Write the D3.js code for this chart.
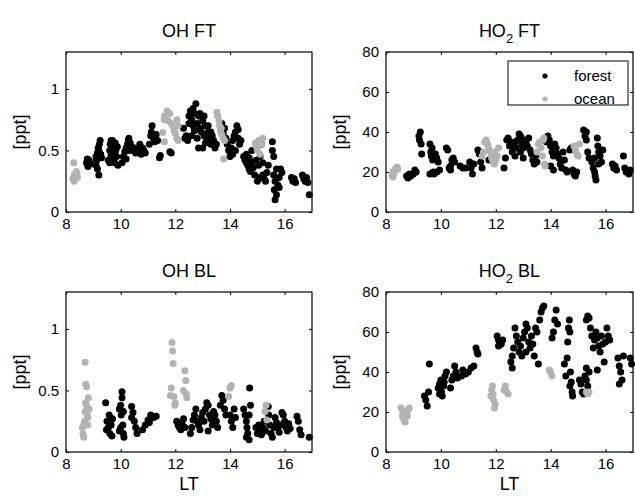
<!DOCTYPE html>
<html>
<head>
<meta charset="utf-8">
<script src="https://cdn.jsdelivr.net/npm/d3@7"></script>
<style>
    body { margin: 0; background: #fff; }
    svg text { font-family: Arial, "Liberation Sans", Helvetica, sans-serif; fill: #000; }
</style>
</head>
<body>
<div id="chart"></div>
<script>

// x axis (local time) shared by all panels
let ltTicks = [8, 10, 12, 14, 16];
let ohTicks = [0, 0.5, 1];
let ho2Ticks = [0, 20, 40, 60, 80];

// OH free troposphere [LT, ppt]
let ohFtForest = [
    [8.75,0.40],[8.8,0.37],[8.85,0.42],[8.9,0.39],[8.78,0.43],
    [9.1,0.38],[9.12,0.42],[9.15,0.48],[9.18,0.52],[9.2,0.50],[9.22,0.55],[9.25,0.58],[9.15,0.35],[9.2,0.30],[9.1,0.45],[9.27,0.47],[9.3,0.44],
    [9.55,0.42],[9.6,0.50],[9.62,0.55],[9.65,0.58],[9.7,0.52],[9.72,0.47],[9.75,0.43],[9.78,0.40],[9.8,0.56],[9.82,0.50],[9.85,0.45],[9.88,0.53],[9.9,0.38],[9.7,0.58],[9.65,0.46],[9.6,0.40],
    [10.05,0.40],[10.1,0.45],[10.15,0.49],[10.2,0.52],[10.25,0.55],[10.28,0.58],[10.3,0.60],[10.35,0.56],[10.4,0.53],[10.45,0.50],[10.5,0.52],[10.55,0.48],[10.2,0.43],[10.3,0.50],
    [10.65,0.50],[10.7,0.55],[10.75,0.47],[10.8,0.52],[10.85,0.50],[10.9,0.48],
    [11.05,0.55],[11.1,0.62],[11.12,0.65],[11.15,0.70],[11.2,0.60],[11.25,0.57],[11.3,0.63],[11.35,0.58],
    [11.45,0.46],[11.42,0.44],[11.85,0.48],[11.8,0.49],
    [12.3,0.68],[12.35,0.60],[12.4,0.62],[12.45,0.58],
    [12.5,0.78],[12.55,0.82],[12.6,0.75],[12.65,0.70],[12.7,0.80],[12.75,0.88],[12.8,0.72],[12.85,0.78],[12.9,0.68],[12.95,0.65],[13.0,0.74],[13.05,0.62],[13.1,0.70],[13.15,0.58],[13.2,0.65],[13.25,0.60],[13.3,0.55],[13.35,0.62],[13.4,0.58],[13.45,0.52],[13.5,0.55],
    [12.6,0.62],[12.7,0.66],[12.8,0.60],[13.0,0.52],[13.1,0.56],[12.5,0.72],[12.9,0.80],[13.2,0.70],[13.3,0.65],[12.65,0.84],[13.05,0.78],[12.85,0.52],
    [13.7,0.72],[13.8,0.68],[13.85,0.60],[13.9,0.55],[13.95,0.50],[14.0,0.45],[14.05,0.52],[14.1,0.58],[14.15,0.62],[14.2,0.65],[14.25,0.70],[14.3,0.60],[14.35,0.55],[14.4,0.58],[14.1,0.47],[14.2,0.50],[14.3,0.67],[13.75,0.64],
    [14.5,0.45],[14.55,0.42],[14.6,0.40],[14.65,0.38],[14.7,0.35],[14.75,0.33],[14.8,0.40],[14.85,0.36],[14.9,0.30],[14.95,0.42],[14.6,0.47],[14.7,0.44],[14.8,0.50],
    [15.0,0.25],[15.05,0.38],[15.1,0.45],[15.15,0.55],[15.2,0.30],[15.25,0.27],[15.3,0.25],[15.35,0.32],[15.1,0.28],[15.2,0.40],[15.4,0.38],
    [15.55,0.57],[15.55,0.50],[15.6,0.45],[15.6,0.30],[15.62,0.18],[15.65,0.10],[15.7,0.14],[15.75,0.22],[15.8,0.28],[15.85,0.35],[15.9,0.32],[15.7,0.35],[15.65,0.25],[15.8,0.20],
    [16.25,0.28],[16.3,0.25],[16.35,0.27],[16.4,0.24],
    [16.65,0.30],[16.7,0.27],[16.75,0.25],[16.8,0.28],[16.85,0.24],[16.9,0.14]
];
let ohFtOcean = [
    [8.28,0.40],[8.25,0.27],[8.3,0.25],[8.35,0.29],[8.4,0.31],[8.38,0.33],[8.3,0.30],[8.42,0.28],
    [11.6,0.78],[11.65,0.76],[11.7,0.82],[11.75,0.74],[11.8,0.80],[11.85,0.72],[11.9,0.70],[11.95,0.66],[12.0,0.64],[12.05,0.60],[12.1,0.58],[11.6,0.75],[11.54,0.645],[11.6,0.57],[12.06,0.75],[12.1,0.70],
    [13.52,0.81],[13.55,0.78],[13.6,0.74],[13.62,0.70],[13.65,0.66],[13.7,0.63],[13.75,0.60],[13.8,0.58],[13.68,0.68],[13.77,0.43],
    [14.93,0.56],[14.97,0.53],[15.0,0.50],[15.05,0.58],[15.1,0.47],[15.15,0.55],[15.2,0.60]
];

// HO2 free troposphere [LT, ppt]
let ho2FtForest = [
    [8.75,18],[8.8,17],[8.85,19],[8.9,18],
    [9.0,19],[9.05,21],[9.1,20],
    [9.2,38],[9.22,36],[9.25,40],[9.28,34],[9.3,29],
    [9.6,34],[9.63,30],[9.65,28],[9.7,26],[9.72,20],[9.75,19],[9.68,32],[9.6,19],
    [9.8,29],[9.85,27],[9.9,25],[9.95,21],[9.85,20],
    [10.2,32],[10.25,31],[10.3,22],[10.35,21],[10.4,26],[10.45,27],[10.5,25],[10.35,23],
    [10.7,23],[10.8,22],[10.9,22],
    [11.05,25],[11.1,22],[11.15,19],[11.2,24],
    [11.35,31],[11.4,29],[11.45,25],[11.5,22],[11.75,26],
    [12.3,22],[12.35,27],[12.4,36],[12.45,37],[12.5,33],[12.55,35],
    [12.6,30],[12.65,33],[12.7,28],[12.75,32],[12.8,36],[12.85,39],[12.9,38],[12.95,34],[13.0,32],[13.05,36],[13.1,35],[13.15,33],[13.2,37],[13.25,31],[13.3,29],[12.7,35],[12.9,30],[13.0,27],
    [13.35,26],[13.4,24],[13.45,28],[13.5,25],
    [13.9,38],[13.95,36],[14.0,33],[14.05,30],[14.1,28],[14.15,34],[14.2,32],[14.25,29],[14.3,27],[14.35,24],[14.4,22],[14.0,23],[14.1,21],[13.85,35],
    [14.45,30],[14.5,26],[14.55,21],[14.6,20],
    [14.7,31],[14.75,32],[14.8,21],[14.85,19],[14.9,18],[14.95,20],
    [15.2,41],[15.25,38],[15.3,36],[15.35,30],[15.4,27],[15.3,40],
    [15.5,25],[15.55,22],[15.6,20],[15.62,18],[15.65,16],[15.7,37],[15.72,33],[15.75,30],[15.8,28],[15.85,25],[15.9,31],[15.6,27],[15.75,24],
    [16.25,24],[16.3,22],[16.35,23],[16.4,21],
    [16.65,28],[16.7,22],[16.75,20],[16.85,19],[16.9,21]
];
let ho2FtOcean = [
    [8.22,18],[8.25,17.5],[8.28,19],[8.3,20],[8.33,21],[8.36,22],[8.4,22.5],[8.43,21.5],[8.25,20],
    [11.5,28],[11.55,30],[11.6,35],[11.65,36],[11.7,34],[11.75,32],[11.8,30],[11.85,27],[11.9,25],[11.95,24],[12.0,26],[12.05,28],[12.1,32],[11.95,30],[11.85,29],
    [13.5,30],[13.55,34],[13.6,35],[13.65,32],[13.7,28],[13.75,37],[13.78,24],[13.8,23],[13.72,36],
    [14.85,33],[14.9,31],[14.95,29],[15.0,28],[15.05,34]
];

// OH boundary layer [LT, ppt]
let ohBlForest = [
    [9.45,0.40],[9.5,0.25],[9.55,0.20],[9.6,0.15],[9.65,0.22],[9.7,0.27],[9.48,0.18],[9.58,0.30],[9.68,0.13],
    [9.95,0.35],[10.0,0.38],[10.02,0.30],[10.05,0.49],[10.08,0.22],[10.1,0.15],[10.12,0.12],[10.0,0.20],[9.95,0.17],[10.05,0.44],[10.1,0.33],
    [10.4,0.37],[10.45,0.32],[10.5,0.25],[10.55,0.20],[10.6,0.15],[10.4,0.28],
    [10.8,0.18],[10.9,0.22],[11.0,0.26],[11.1,0.30],[11.2,0.28],[11.3,0.29],[11.05,0.24],
    [12.05,0.25],[12.1,0.22],[12.15,0.20],[12.2,0.18],[12.25,0.23],[12.3,0.27],[12.35,0.20],
    [12.55,0.15],[12.6,0.20],[12.65,0.26],[12.7,0.30],[12.75,0.35],[12.8,0.25],[12.85,0.22],[12.9,0.18],[12.95,0.28],[13.0,0.32],
    [13.05,0.25],[13.1,0.35],[13.15,0.40],[13.2,0.38],[13.25,0.30],[13.3,0.27],[13.35,0.22],[13.4,0.33],[13.45,0.30],[13.5,0.25],[13.55,0.20],[13.2,0.17],
    [13.65,0.38],[13.7,0.46],[13.75,0.42],[13.8,0.35],[13.85,0.30],
    [14.0,0.30],[14.05,0.25],[14.1,0.20],[14.15,0.35],[14.2,0.28],
    [14.5,0.35],[14.55,0.30],[14.6,0.25],[14.62,0.20],[14.65,0.15],[14.7,0.10],[14.72,0.52],[14.75,0.38],[14.7,0.30],[14.6,0.12],
    [14.95,0.20],[15.0,0.15],[15.05,0.22],[15.1,0.18],[15.15,0.14],[15.2,0.20],[15.25,0.25],[15.3,0.17],
    [15.4,0.37],[15.42,0.30],[15.45,0.22],[15.5,0.15],[15.55,0.12],[15.6,0.20],
    [15.65,0.28],[15.7,0.24],[15.75,0.20],[15.8,0.16],[15.85,0.22],[15.9,0.32],[15.95,0.30],[16.0,0.25],[16.05,0.20],[16.1,0.17],[16.15,0.23],[16.2,0.19],
    [16.45,0.29],[16.5,0.25],[16.55,0.18],[16.6,0.14],
    [16.9,0.12]
];
let ohBlOcean = [
    [8.6,0.20],[8.62,0.15],[8.65,0.12],[8.68,0.25],[8.7,0.33],[8.72,0.40],[8.7,0.73],[8.72,0.55],[8.75,0.53],[8.78,0.30],[8.8,0.28],[8.82,0.44],[8.85,0.35],[8.65,0.22],[8.75,0.38],[8.8,0.22],
    [11.82,0.46],[11.85,0.52],[11.88,0.89],[11.9,0.82],[11.92,0.72],[11.95,0.45],[11.98,0.38],[12.0,0.40],
    [12.3,0.50],[12.35,0.66],[12.38,0.58],[12.4,0.47],[12.42,0.44],
    [13.95,0.45],[14.0,0.52],[14.05,0.54],
    [15.28,0.33],[15.32,0.38],[15.35,0.26]
];

// HO2 boundary layer [LT, ppt]
let ho2BlForest = [
    [9.4,28],[9.45,26],[9.5,23],[9.55,30],[9.58,44],
    [9.9,32],[9.95,34],[10.0,36],[10.02,30],[10.05,28],[10.1,33],[10.12,35],[10.15,38],[10.2,40],[9.95,29],
    [10.35,32],[10.4,36],[10.45,38],[10.5,43],[10.55,40],[10.6,37],
    [10.75,38],[10.8,41],[10.9,39],[11.0,40],[11.1,42],[11.2,43],
    [11.28,52],[11.32,50],[11.35,49],
    [12.05,58],[12.1,56],[12.15,55],[12.2,54],[12.25,56],[12.1,53],
    [12.55,45],[12.6,48],[12.65,52],[12.7,62],[12.75,58],[12.8,55],[12.85,50],[12.9,53],[12.95,48],[12.6,42],
    [13.0,57],[13.05,60],[13.1,64],[13.15,62],[13.2,55],[13.25,52],[13.3,58],[13.35,54],[13.4,48],[13.45,62],[13.5,60],[13.1,50],
    [13.55,44],[13.6,66],[13.65,70],[13.7,72],[13.75,73],
    [14.05,57],[14.1,60],[14.15,66],[14.2,71],[14.25,64],
    [14.5,44],[14.55,38],[14.6,47],[14.62,55],[14.65,62],[14.68,66],[14.7,60],[14.72,40],[14.75,35],[14.78,30],[14.8,28],[14.7,33],
    [15.05,36],[15.1,34],[15.15,30],[15.2,29],[15.25,38],[15.3,42],[15.3,36],[15.35,33],
    [15.3,66],[15.35,68],[15.4,67],[15.45,62],[15.5,58],[15.4,40],
    [15.55,52],[15.6,56],[15.65,60],[15.7,57],[15.75,53],[15.8,50],[15.85,58],[15.9,54],[15.95,45],[16.0,55],[16.05,62],[16.1,58],[16.15,56],[15.7,41],
    [16.45,47],[16.5,43],[16.55,40],[16.6,36],[16.5,34],[16.65,48],
    [16.9,47],[16.95,44]
];
let ho2BlOcean = [
    [8.55,22],[8.6,18],[8.65,16],[8.7,19],[8.75,20],[8.8,21],[8.85,22],[8.7,15],[8.62,20],[8.78,18],
    [11.82,28],[11.85,31],[11.88,33],[11.9,29],[11.92,26],[11.95,22],[11.98,24],
    [12.3,31],[12.35,33],[12.4,30],[12.45,29],
    [13.95,41],[14.0,40],[14.05,38],
    [15.3,30],[15.35,29],[15.4,30]
];

let forestColor = "#000000";
let oceanColor = "#b3b3b3";

class ScatterPanel {

    constructor(svg, box, opts) {
        this.svg = svg;
        this.box = box;
        this.opts = opts;
        this.initVis();
    }

    initVis() {
        let vis = this;
        let b = vis.box;

        vis.g = vis.svg.append("g");

        vis.x = d3.scaleLinear().domain([8, 17]).range([b.left, b.right]);
        vis.y = d3.scaleLinear().domain(vis.opts.yDomain).range([b.bottom, b.top]);

        // points: forest first, ocean drawn on top
        vis.g.append("g").selectAll("circle")
            .data(vis.opts.forest)
            .join("circle")
            .attr("cx", d => vis.x(d[0]))
            .attr("cy", d => vis.y(d[1]))
            .attr("r", 3.5)
            .attr("fill", forestColor);

        vis.g.append("g").selectAll("circle")
            .data(vis.opts.ocean)
            .join("circle")
            .attr("cx", d => vis.x(d[0]))
            .attr("cy", d => vis.y(d[1]))
            .attr("r", 3.5)
            .attr("fill", oceanColor);

        // axes, ticks pointing inwards like matlab
        let bottom = vis.g.append("g")
            .attr("transform", `translate(0,${b.bottom})`)
            .call(d3.axisBottom(vis.x).tickValues(ltTicks).tickSize(-3).tickSizeOuter(0).tickPadding(6));
        vis.g.append("g")
            .attr("transform", `translate(0,${b.top})`)
            .call(d3.axisTop(vis.x).tickValues(ltTicks).tickSize(-3).tickSizeOuter(0).tickFormat(""));
        let left = vis.g.append("g")
            .attr("transform", `translate(${b.left},0)`)
            .call(d3.axisLeft(vis.y).tickValues(vis.opts.yTicks).tickSize(-3).tickSizeOuter(0).tickPadding(7)
                .tickFormat(d3.format("")));
        vis.g.append("g")
            .attr("transform", `translate(${b.right},0)`)
            .call(d3.axisRight(vis.y).tickValues(vis.opts.yTicks).tickSize(-3).tickSizeOuter(0).tickFormat(""));

        vis.g.selectAll(".domain").remove();
        vis.g.selectAll(".tick line").attr("stroke", "#000");
        vis.g.selectAll(".tick text").style("font-size", "15px").attr("fill", "#000");
        bottom.selectAll(".tick text").attr("dy", "0.75em");

        vis.g.append("rect")
            .attr("x", b.left)
            .attr("y", b.top)
            .attr("width", b.right - b.left)
            .attr("height", b.bottom - b.top)
            .attr("fill", "none")
            .attr("stroke", "#000")
            .attr("stroke-width", 1.2);

        // title with optional subscript
        let title = vis.g.append("text")
            .attr("x", (b.left + b.right) / 2)
            .attr("y", b.top - 15)
            .attr("text-anchor", "middle")
            .style("font-size", "18px");
        vis.opts.title.forEach(function (part) {
            let t = title.append("tspan").text(part.text);
            if (part.sub) {
                t.attr("dy", 6).style("font-size", "13px");
            } else if (part.after) {
                t.attr("dy", -6);
            }
        });

        vis.g.append("text")
            .attr("transform", `translate(${b.left - 40},${(b.top + b.bottom) / 2}) rotate(-90)`)
            .attr("text-anchor", "middle")
            .style("font-size", "18px")
            .text("[ppt]");

        if (vis.opts.xlabel) {
            vis.g.append("text")
                .attr("x", (b.left + b.right) / 2)
                .attr("y", b.bottom + 38)
                .attr("text-anchor", "middle")
                .style("font-size", "18px")
                .text("LT");
        }
    }
}

let svg = d3.select("#chart").append("svg")
    .attr("width", 635)
    .attr("height", 496);

new ScatterPanel(svg, {left: 66, right: 312, top: 52, bottom: 212}, {
    yDomain: [0, 1.3], yTicks: ohTicks, forest: ohFtForest, ocean: ohFtOcean,
    title: [{text: "OH FT"}]
});
new ScatterPanel(svg, {left: 386, right: 633, top: 52, bottom: 212}, {
    yDomain: [0, 80], yTicks: ho2Ticks, forest: ho2FtForest, ocean: ho2FtOcean,
    title: [{text: "HO"}, {text: "2", sub: true}, {text: " FT", after: true}]
});
new ScatterPanel(svg, {left: 66, right: 312, top: 292, bottom: 452}, {
    yDomain: [0, 1.3], yTicks: ohTicks, forest: ohBlForest, ocean: ohBlOcean,
    title: [{text: "OH BL"}], xlabel: true
});
new ScatterPanel(svg, {left: 386, right: 633, top: 292, bottom: 452}, {
    yDomain: [0, 80], yTicks: ho2Ticks, forest: ho2BlForest, ocean: ho2BlOcean,
    title: [{text: "HO"}, {text: "2", sub: true}, {text: " BL", after: true}], xlabel: true
});

// legend in the HO2 FT panel
let legend = svg.append("g");
legend.append("rect")
    .attr("x", 508).attr("y", 61)
    .attr("width", 120).attr("height", 44)
    .attr("fill", "#fff")
    .attr("stroke", "#000")
    .attr("stroke-width", 1);
let legendItems = [["forest", forestColor], ["ocean", oceanColor]];
legendItems.forEach(function (d, i) {
    legend.append("circle")
        .attr("cx", 545)
        .attr("cy", 76 + i * 23)
        .attr("r", 2.6)
        .attr("fill", d[1]);
    legend.append("text")
        .attr("x", 574)
        .attr("y", 76 + i * 23)
        .attr("dy", "0.35em")
        .style("font-size", "15px")
        .text(d[0]);
});

</script>
</body>
</html>
